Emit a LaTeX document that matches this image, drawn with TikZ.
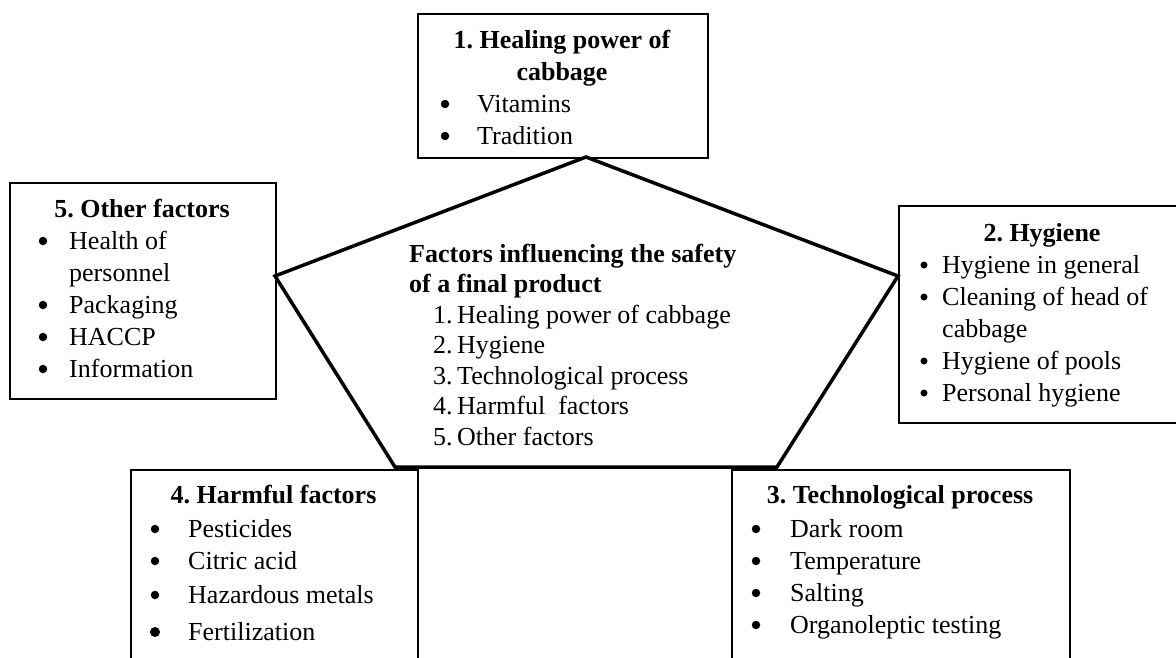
\documentclass[tikz,border=0pt]{standalone}
\usepackage{fontspec}
\setmainfont{Liberation Serif}
\begin{document}
\frenchspacing
\begin{tikzpicture}[x=1pt,y=-1pt,
  box/.style={draw=black, line width=1.5pt, inner sep=0pt, anchor=north west},
  penta/.style={draw=black, line width=3.5pt, line join=miter},
  txt/.style={anchor=base west, inner sep=0pt, font=\fontsize{26}{32}\selectfont\frenchspacing},
  ttl/.style={anchor=base, inner sep=0pt, font=\fontsize{26}{32}\selectfont\bfseries\frenchspacing},
  ctl/.style={anchor=base west, inner sep=0pt, font=\fontsize{26}{32}\selectfont\bfseries\frenchspacing},
  bul/.style={circle, fill=black, inner sep=0pt, minimum size=8.5pt, yshift=8pt}]
\useasboundingbox (0,0) rectangle (1176,657);
\clip (0,0) rectangle (1176,657);
\fill[white] (0,0) rectangle (1176,657);
% boxes
\node[box, minimum width=290pt, minimum height=144pt] (b1) at (417,13) {};
\node[box, minimum width=266pt, minimum height=216pt] (b5) at (9,182) {};
\node[box, minimum width=292pt, minimum height=217pt] (b2) at (898,205) {};
\node[box, minimum width=287pt, minimum height=230pt] (b4) at (130,469) {};
\node[box, minimum width=338pt, minimum height=230pt] (b3) at (731,469) {};
% pentagon
\coordinate (pt) at (586,157);
\coordinate (pr) at (898,276);
\coordinate (pbr) at (777,467);
\coordinate (pbl) at (395,467);
\coordinate (pl) at (275,276);
\draw[penta] (pt) -- (pr) -- (pbr) -- (pbl) -- (pl) -- cycle;
% box 1
\node[ttl] (t1a) at (562,48) {1. Healing power of};
\node[ttl] (t1b) at (562,80) {cabbage};
\node[bul] (u11) at (445,112) {};
\node[txt] (i11) at (477,112) {Vitamins};
\node[bul] (u12) at (445,144) {};
\node[txt] (i12) at (477,144) {Tradition};
% box 5
\node[ttl] (t5) at (142,217) {5. Other factors};
\node[bul] (u51) at (43,249) {};
\node[txt] (i51) at (69,249) {Health of};
\node[txt] (i51b) at (69,281) {personnel};
\node[bul] (u52) at (43,313) {};
\node[txt] (i52) at (69,313) {Packaging};
\node[bul] (u53) at (43,345) {};
\node[txt] (i53) at (69,345) {HACCP};
\node[bul] (u54) at (43,377) {};
\node[txt] (i54) at (69,377) {Information};
% box 2
\node[ttl] (t2) at (1042,241) {2. Hygiene};
\node[bul, minimum size=7pt] (u21) at (924,273) {};
\node[txt] (i21) at (942,273) {Hygiene in general};
\node[bul, minimum size=7pt] (u22) at (924,305) {};
\node[txt] (i22) at (942,305) {Cleaning of head of};
\node[txt] (i22b) at (942,337) {cabbage};
\node[bul, minimum size=7pt] (u23) at (924,369) {};
\node[txt] (i23) at (942,369) {Hygiene of pools};
\node[bul, minimum size=7pt] (u24) at (924,401) {};
\node[txt] (i24) at (942,401) {Personal hygiene};
% box 4
\node[ttl] (t4) at (273.5,503) {4. Harmful factors};
\node[bul] (u41) at (155,537) {};
\node[txt] (i41) at (188,537) {Pesticides};
\node[bul] (u42) at (155,569) {};
\node[txt] (i42) at (188,569) {Citric acid};
\node[bul] (u43) at (155,603) {};
\node[txt] (i43) at (188,603) {Hazardous metals};
\node[bul, minimum size=10pt] (u44) at (155,640) {};
\node[txt] (i44) at (188,640) {Fertilization};
% box 3
\node[ttl] (t3) at (900,503) {3. Technological process};
\node[bul] (u31) at (756,537) {};
\node[txt] (i31) at (790,537) {Dark room};
\node[bul] (u32) at (756,569) {};
\node[txt] (i32) at (790,569) {Temperature};
\node[bul] (u33) at (756,601) {};
\node[txt] (i33) at (790,601) {Salting};
\node[bul] (u34) at (756,633) {};
\node[txt] (i34) at (790,633) {Organoleptic testing};
% centre
\node[ctl] (c0a) at (409,262) {Factors influencing the safety};
\node[ctl] (c0b) at (409,292) {of a final product};
\node[txt] (n1) at (433,323) {1.};
\node[txt] (c1) at (457,323) {Healing power of cabbage};
\node[txt] (n2) at (433,353) {2.};
\node[txt] (c2) at (457,353) {Hygiene};
\node[txt] (n3) at (433,384) {3.};
\node[txt] (c3) at (457,384) {Technological process};
\node[txt] (n4) at (433,414) {4.};
\node[txt] (c4) at (457,414) {Harmful\ \ factors};
\node[txt] (n5) at (433,445) {5.};
\node[txt] (c5) at (457,445) {Other factors};
\end{tikzpicture}
\end{document}
